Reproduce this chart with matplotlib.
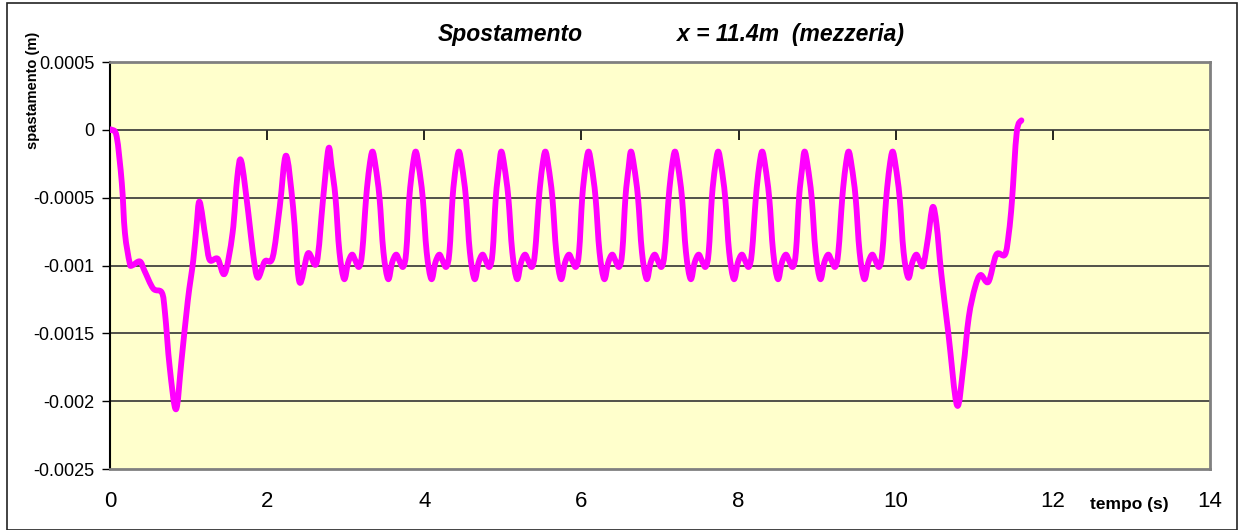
import numpy as np
import matplotlib.pyplot as plt
from matplotlib.patches import Rectangle, PathPatch
from matplotlib.path import Path

# tempo (s) e spostamento (m)
t = [0.0, 0.02, 0.085, 0.15, 0.19, 0.25, 0.28, 0.38, 0.44, 0.55, 0.66, 0.70, 0.76, 0.84,
     0.91, 0.99, 1.06, 1.10, 1.14, 1.22, 1.27, 1.37, 1.46, 1.56, 1.62, 1.67,
     1.76, 1.82, 1.88, 1.97, 2.07, 2.16, 2.24,
     2.33, 2.41, 2.52, 2.63, 2.71, 2.78,
     2.82, 2.87, 2.92, 2.98, 3.03, 3.08, 3.12, 3.17, 3.21, 3.26, 3.30, 3.34,
     3.38, 3.43, 3.48, 3.54, 3.59, 3.64, 3.68, 3.73, 3.77, 3.81, 3.85, 3.89,
     3.93, 3.98, 4.03, 4.09, 4.14, 4.19, 4.23, 4.28, 4.32, 4.36, 4.40, 4.44,
     4.48, 4.53, 4.58, 4.64, 4.69, 4.74, 4.78, 4.83, 4.87, 4.91, 4.95, 4.98,
     5.02, 5.07, 5.12, 5.18, 5.23, 5.28, 5.32, 5.37, 5.41, 5.46, 5.50, 5.54,
     5.58, 5.63, 5.68, 5.74, 5.79, 5.84, 5.88, 5.93, 5.97, 6.01, 6.05, 6.09,
     6.13, 6.18, 6.23, 6.29, 6.34, 6.39, 6.43, 6.48, 6.52, 6.56, 6.60, 6.63,
     6.67, 6.72, 6.77, 6.83, 6.88, 6.93, 6.97, 7.02, 7.06, 7.11, 7.15, 7.19,
     7.23, 7.28, 7.33, 7.39, 7.44, 7.49, 7.53, 7.58, 7.62, 7.66, 7.70, 7.74,
     7.78, 7.83, 7.88, 7.94, 7.99, 8.04, 8.08, 8.13, 8.17, 8.22, 8.26, 8.30,
     8.34, 8.39, 8.44, 8.50, 8.55, 8.60, 8.64, 8.69, 8.73, 8.77, 8.81, 8.84,
     8.88, 8.93, 8.98, 9.04, 9.09, 9.14, 9.18, 9.23, 9.27, 9.32, 9.36, 9.40,
     9.44, 9.49, 9.54, 9.60, 9.65, 9.70, 9.74, 9.79, 9.83, 9.88, 9.92, 9.96,
     10.00, 10.05, 10.10, 10.16, 10.21, 10.26, 10.30, 10.35, 10.41, 10.47,
     10.52, 10.58, 10.67, 10.78, 10.86, 10.93, 11.01, 11.08, 11.18, 11.28,
     11.39, 11.44, 11.48, 11.54, 11.60]

s = [0.0, 0.0, -0.00005, -0.00039, -0.00076, -0.00098, -0.00100, -0.00097, -0.00104,
     -0.00117, -0.00120, -0.00135, -0.00175, -0.00206,
     -0.00170, -0.00126, -0.00096, -0.00072, -0.00053, -0.00081, -0.00096, -0.00095,
     -0.00106, -0.00076, -0.00035, -0.00023,
     -0.00061, -0.00091, -0.00109, -0.00097, -0.00094, -0.00057, -0.00019,
     -0.00057, -0.00112, -0.00091, -0.00098, -0.00052, -0.00014,
     -0.00027, -0.00050, -0.00090, -0.00110, -0.00098, -0.00092, -0.00096, -0.00101, -0.00090, -0.00050, -0.00028, -0.00016,
     -0.00027, -0.00050, -0.00090, -0.00110, -0.00098, -0.00092, -0.00096, -0.00101, -0.00090, -0.00050, -0.00028, -0.00016,
     -0.00027, -0.00050, -0.00090, -0.00110, -0.00098, -0.00092, -0.00096, -0.00101, -0.00090, -0.00050, -0.00028, -0.00016,
     -0.00027, -0.00050, -0.00090, -0.00110, -0.00098, -0.00092, -0.00096, -0.00101, -0.00090, -0.00050, -0.00028, -0.00016,
     -0.00027, -0.00050, -0.00090, -0.00110, -0.00098, -0.00092, -0.00096, -0.00101, -0.00090, -0.00050, -0.00028, -0.00016,
     -0.00027, -0.00050, -0.00090, -0.00110, -0.00098, -0.00092, -0.00096, -0.00101, -0.00090, -0.00050, -0.00028, -0.00016,
     -0.00027, -0.00050, -0.00090, -0.00110, -0.00098, -0.00092, -0.00096, -0.00101, -0.00090, -0.00050, -0.00028, -0.00016,
     -0.00027, -0.00050, -0.00090, -0.00110, -0.00098, -0.00092, -0.00096, -0.00101, -0.00090, -0.00050, -0.00028, -0.00016,
     -0.00027, -0.00050, -0.00090, -0.00110, -0.00098, -0.00092, -0.00096, -0.00101, -0.00090, -0.00050, -0.00028, -0.00016,
     -0.00027, -0.00050, -0.00090, -0.00110, -0.00098, -0.00092, -0.00096, -0.00101, -0.00090, -0.00050, -0.00028, -0.00016,
     -0.00027, -0.00050, -0.00090, -0.00110, -0.00098, -0.00092, -0.00096, -0.00101, -0.00090, -0.00050, -0.00028, -0.00016,
     -0.00027, -0.00050, -0.00090, -0.00110, -0.00098, -0.00092, -0.00096, -0.00101, -0.00090, -0.00050, -0.00028, -0.00016,
     -0.00027, -0.00050, -0.00090, -0.00110, -0.00098, -0.00092, -0.00096, -0.00101, -0.00090, -0.00050, -0.00028, -0.00016,
     -0.00027, -0.00050, -0.00090, -0.00109, -0.00098, -0.00092, -0.00096, -0.00100, -0.00080, -0.00057,
     -0.00070, -0.00106, -0.00150, -0.00203, -0.00175, -0.00138, -0.00116, -0.00107, -0.00112, -0.00092,
     -0.00092, -0.00076, -0.00052, -0.00002, 0.00007]

yticks = [0.0005, 0, -0.0005, -0.001, -0.0015, -0.002, -0.0025]
ylabels = ['0.0005', '0', '-0.0005', '-0.001', '-0.0015', '-0.002', '-0.0025']
xticks = [0, 2, 4, 6, 8, 10, 12, 14]

plt.rcParams['font.family'] = ['Liberation Sans', 'DejaVu Sans']

fig = plt.figure(figsize=(12.4, 5.3), dpi=100)
ax = fig.add_axes([110/1240, 1-469/530, 1100/1240, 407/530])
ax.set_facecolor('#FFFFCC')

# cornice esterna
fig.patches.append(Rectangle((7/1240, 0.0), 1230/1240, 1-3/530, transform=fig.transFigure,
                             fill=False, edgecolor='#222222', linewidth=1.2))

for y in yticks[1:-1]:
    ax.axhline(y, color='#333333', linewidth=1.2, zorder=1)

# linea smussata come in Excel (bezier tra i punti letti)
p = np.column_stack([t, s])
ext = np.vstack([p[0], p, p[-1]])
verts = [tuple(p[0])]
codes = [Path.MOVETO]
for i in range(len(p) - 1):
    c1 = ext[i + 1] + (ext[i + 2] - ext[i]) / 6.0
    c2 = ext[i + 2] - (ext[i + 3] - ext[i + 1]) / 6.0
    verts += [tuple(c1), tuple(c2), tuple(p[i + 1])]
    codes += [Path.CURVE4] * 3
ax.add_patch(PathPatch(Path(verts, codes), facecolor='none', edgecolor='#FF00FF',
                       linewidth=4.2, joinstyle='round', capstyle='round', zorder=3))

ax.set_xlim(0, 14)
ax.set_ylim(-0.0025, 0.0005)
ax.set_yticks(yticks)
ax.set_yticklabels(ylabels, fontsize=13)
ax.set_xticks(xticks)
ax.set_xticklabels([str(v) for v in xticks], fontsize=16)
ax.tick_params(axis='y', direction='out', length=6, width=1, color='black', pad=5)
ax.tick_params(axis='x', length=0, pad=16)

for side in ['top', 'right', 'bottom']:
    ax.spines[side].set_color('#808080')
    ax.spines[side].set_linewidth(2)
ax.spines['left'].set_color('black')
ax.spines['left'].set_linewidth(1.5)

# asse x che passa per lo zero, tacche verso il basso
sec = ax.secondary_xaxis(2.5/3.0)
sec.set_xticks(xticks)
sec.set_xticklabels([])
sec.xaxis.set_ticks_position('bottom')
sec.tick_params(axis='x', direction='out', length=7, width=1.2, color='black',
                bottom=True, top=False)
sec.spines['bottom'].set_visible(False)
sec.spines['top'].set_visible(False)

fig.text(510/1240, 1-34/530, 'Spostamento', fontsize=16.5, fontweight='bold',
         style='italic', ha='center', va='center')
fig.text(791/1240, 1-35/530, 'x = 11.4m  (mezzeria)', fontsize=16.5, fontweight='bold',
         style='italic', ha='center', va='center')
fig.text(33/1240, 1-90/530, 'spastamento (m)', fontsize=10.5, fontweight='bold',
         rotation=90, ha='center', va='center')
fig.text(1129/1240, 1-504/530, 'tempo (s)', fontsize=12.5, fontweight='bold',
         ha='center', va='center')

fig.savefig('out.png', dpi=100)
